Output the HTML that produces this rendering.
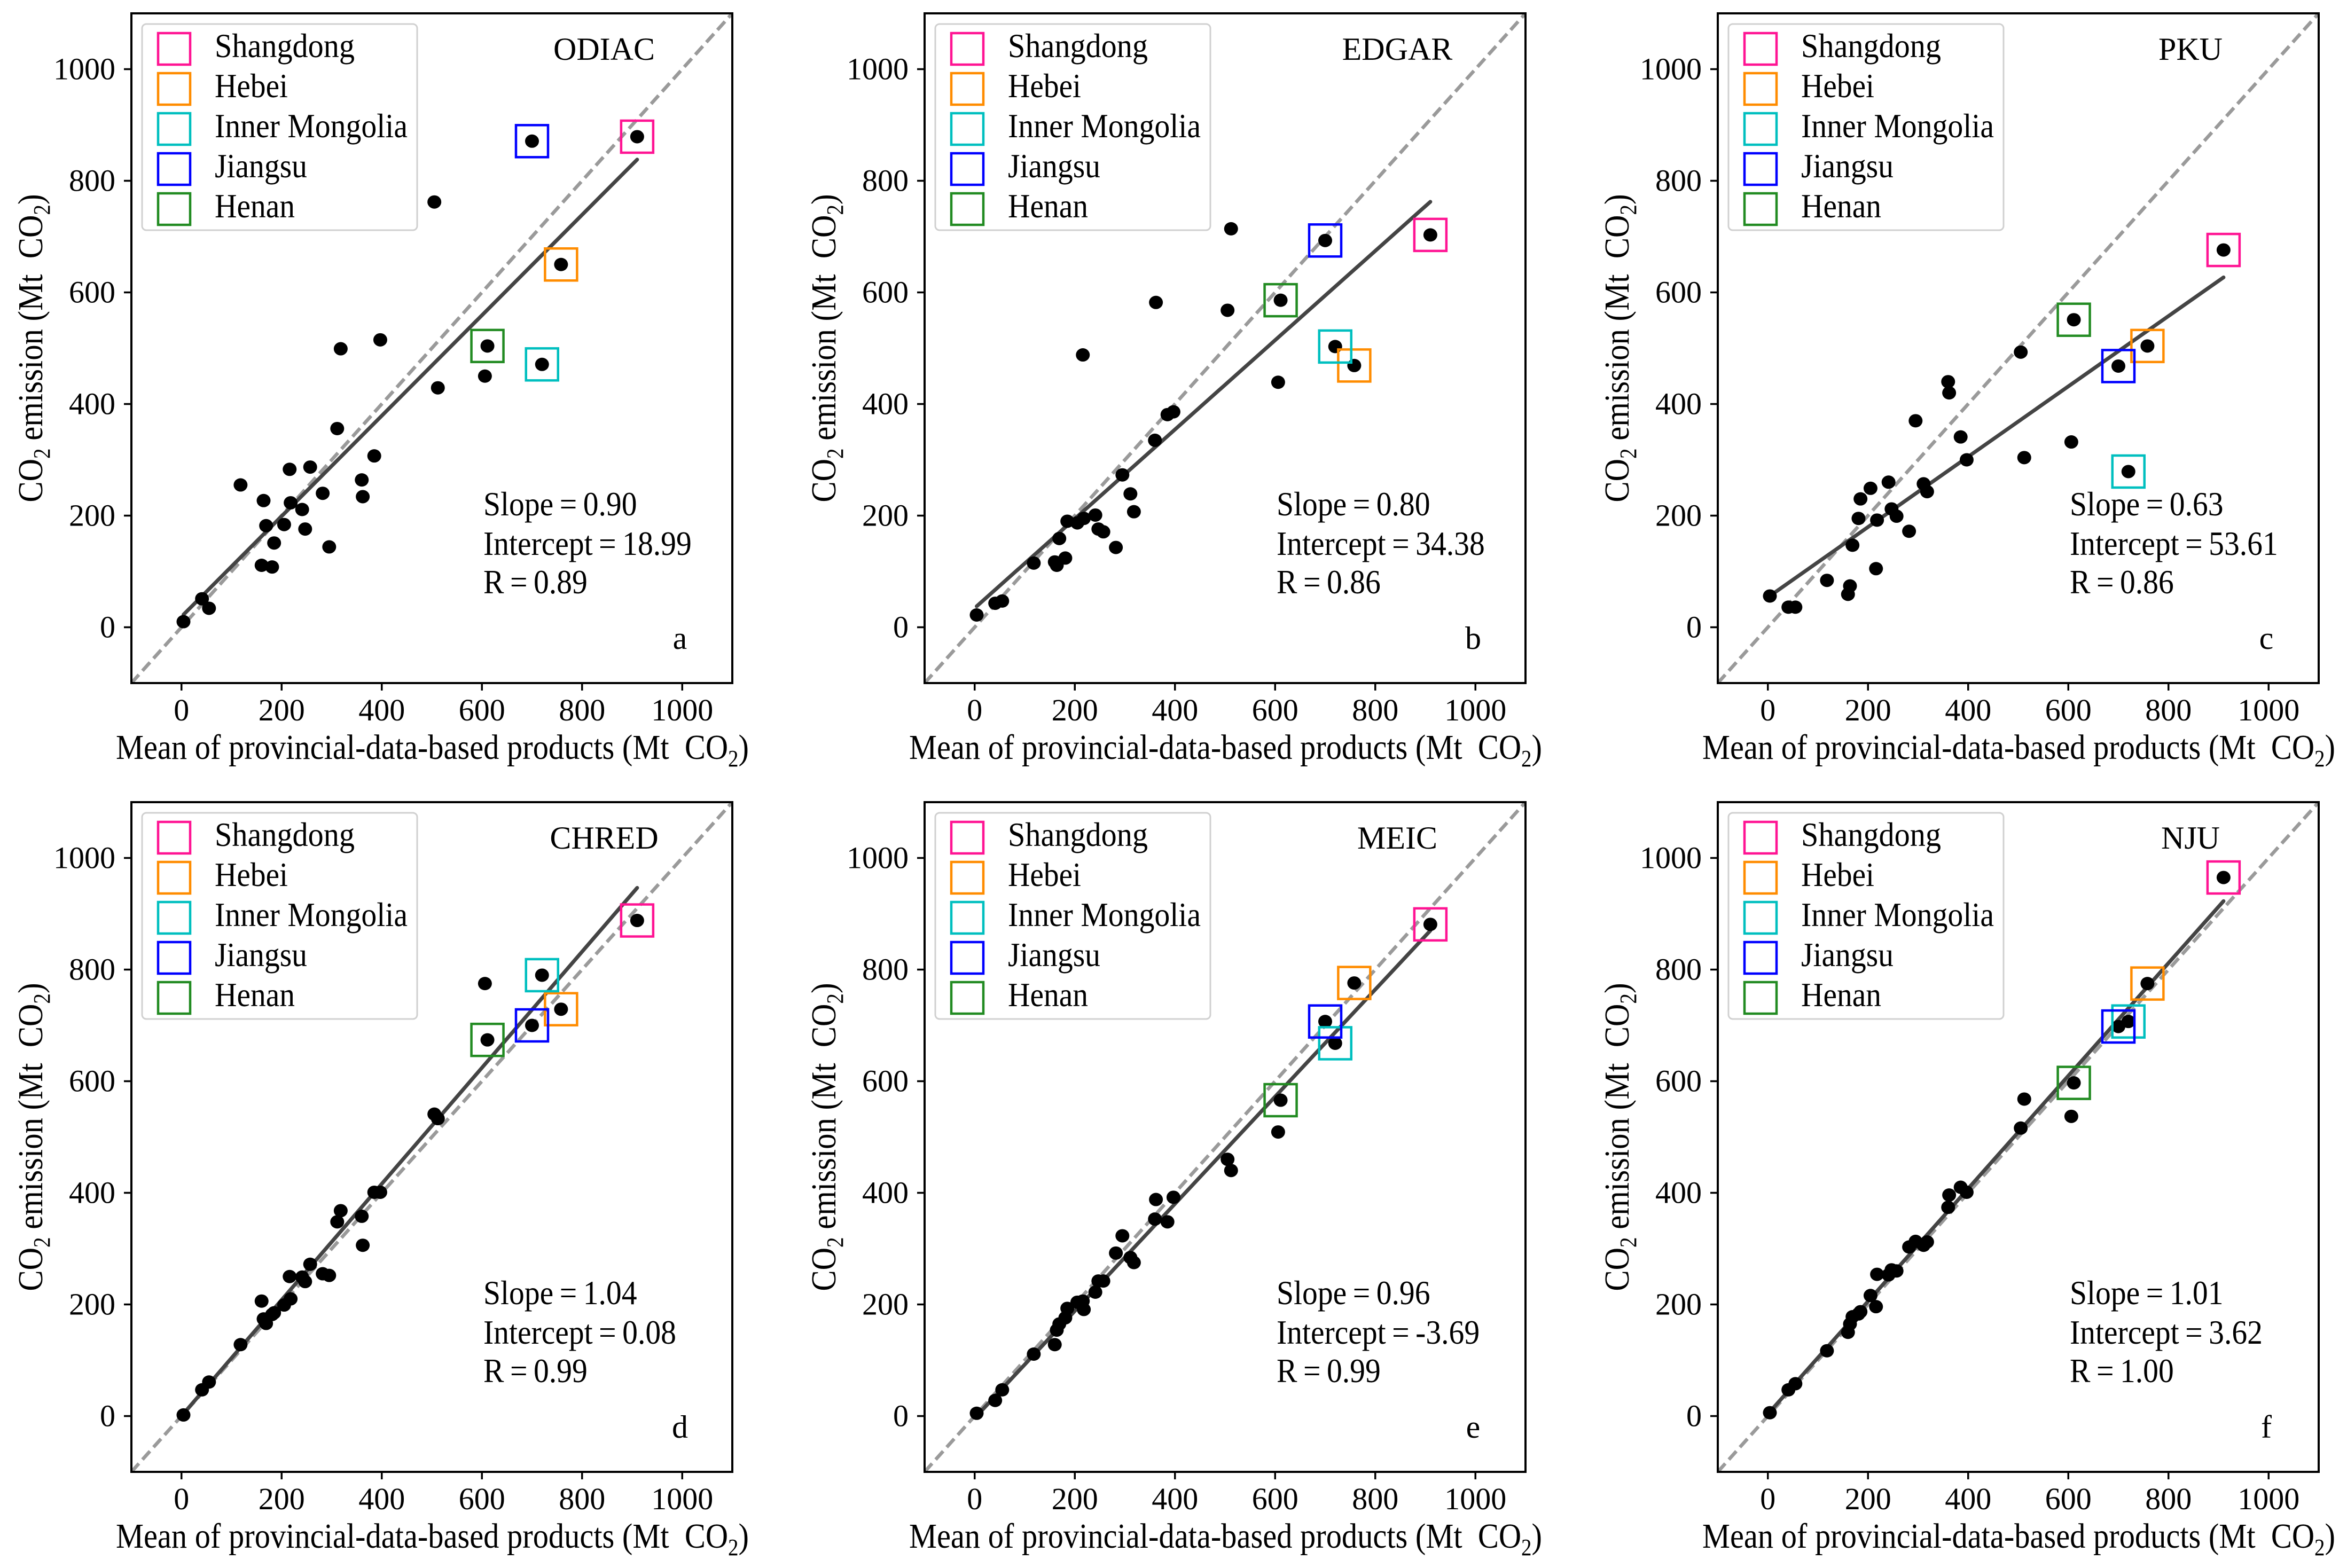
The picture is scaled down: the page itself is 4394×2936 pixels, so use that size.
<!DOCTYPE html>
<html><head><meta charset="utf-8"><style>
html,body{margin:0;padding:0;background:#fff;}
svg{display:block;}
text{font-family:"Liberation Serif","Times New Roman",serif;fill:#000;}
</style></head>
<body>
<svg id="fig" xmlns="http://www.w3.org/2000/svg" width="4394" height="2936" viewBox="0 0 4394 2936" font-family="'Liberation Serif', serif"></svg>
<script>
// Shared x values: mean of provincial-data-based products (Mt CO2)
const provX = [4,41,55,118,160,164,169,181,185,205,216,218,241,247,257,282,295,311,318,360,362,385,397,505,512,606,611,700,720,758,910];
// Product y values (Mt CO2)
const yODIAC = [10,51,34,255,111,227,182,108,151,184,283,223,211,176,287,240,144,356,499,264,234,307,515,762,429,450,504,871,471,650,879];
const yEDGAR = [22,43,47,115,117,111,159,124,190,187,488,195,201,176,171,143,273,239,207,335,582,381,386,568,714,439,586,693,503,469,703];
const yPKU = [56,36,36,84,59,74,147,195,230,249,105,192,260,212,199,172,370,257,243,440,420,341,300,493,304,332,551,468,279,504,676];
const yCHRED = [2,47,61,128,206,174,166,182,185,199,250,210,249,241,272,255,252,348,368,358,306,401,401,541,533,775,674,700,790,729,888];
const yMEIC = [5,28,47,111,128,154,165,176,193,204,206,191,222,242,242,292,323,284,275,353,388,348,392,460,440,509,566,707,668,776,881];
const yNJU = [6,47,58,117,150,165,178,183,187,216,196,254,253,262,260,303,313,306,312,374,396,410,401,516,568,537,597,698,707,775,965];
const productNames = ["ODIAC","EDGAR","PKU","CHRED","MEIC","NJU"];
const slopes = [0.90,0.80,0.63,1.04,0.96,1.01];
const intercepts = [18.99,34.38,53.61,0.08,-3.69,3.62];
const rValues = ["0.89","0.86","0.86","0.99","0.99","1.00"];
const panelLetters = ["a","b","c","d","e","f"];
const tickValues = [0,200,400,600,800,1000];
const highlightNames = ["Shangdong","Hebei","Inner Mongolia","Jiangsu","Henan"];
const highlightIdx = [30,29,28,27,26];
const highlightColors = ["#ff1493","#ff8c00","#00bfbf","#0000ff","#228b22"];

const allY = [yODIAC,yEDGAR,yPKU,yCHRED,yMEIC,yNJU];
const NS = "http://www.w3.org/2000/svg";
const svg = document.getElementById("fig");
function mk(tag, attrs, parent){ const e=document.createElementNS(NS,tag); for(const k in attrs) e.setAttribute(k,attrs[k]); (parent||svg).appendChild(e); return e; }

const AW=1125, AH=1254, DMIN=-100, DMAX=1100;
for(let p=0;p<6;p++){
  const col=p%3, row=Math.floor(p/3);
  const L=246+col*1485, T=25+row*1477;
  const sx=v=>L+(v-DMIN)/(DMAX-DMIN)*AW;
  const sy=v=>T+AH-(v-DMIN)/(DMAX-DMIN)*AH;
  const g=mk("g",{});
  
  
  const clipId='clip'+p;
  const cp=mk("clipPath",{id:clipId},g); mk("rect",{x:L,y:T,width:AW,height:AH},cp);
  const one=mk("line",{x1:sx(DMIN),y1:sy(DMIN),x2:sx(DMAX),y2:sy(DMAX),stroke:"#9a9a9a","stroke-width":6.5,"stroke-dasharray":"21 10","clip-path":"url(#"+clipId+")"},g);
  
  
  const xs=provX, ys=allY[p];
  const xmin=Math.min(...xs), xmax=Math.max(...xs);
  const reg=mk("line",{x1:sx(xmin),y1:sy(slopes[p]*xmin+intercepts[p]),x2:sx(xmax),y2:sy(slopes[p]*xmax+intercepts[p]),stroke:"#444","stroke-width":7,"stroke-linecap":"round"},g);
  
  
  for(let i=0;i<xs.length;i++){
    const c=mk("ellipse",{cx:sx(xs[i]),cy:sy(ys[i]),rx:13,ry:12.5,fill:"#000"},g);
    
    
  }
  for(let k=0;k<highlightIdx.length;k++){
    const i=highlightIdx[k];
    const r=mk("rect",{x:sx(xs[i])-30,y:sy(ys[i])-30,width:60,height:60,fill:"none",stroke:highlightColors[k],"stroke-width":4.5},g);
    
    
  }
  const fr=mk("rect",{x:L,y:T,width:AW,height:AH,fill:"none",stroke:"#000","stroke-width":4},g);
  
  
  for(const v of tickValues){
    mk("line",{x1:sx(v),y1:T+AH,x2:sx(v),y2:T+AH+14,stroke:"#000","stroke-width":3.5},g);
    const tx=mk("text",{x:sx(v),y:T+AH+70,"font-size":58,"text-anchor":"middle"},g); tx.textContent=v;
    
    
    mk("line",{x1:L-14,y1:sy(v),x2:L,y2:sy(v),stroke:"#000","stroke-width":3.5},g);
    const ty=mk("text",{x:L-30,y:sy(v)+19,"font-size":58,"text-anchor":"end"},g); ty.textContent=v;
    
    
  }
  const xl=mk("text",{x:L-29,y:T+AH+142,"font-size":66,textLength:1185,lengthAdjust:"spacingAndGlyphs"},g);
  xl.innerHTML='Mean of provincial-data-based products (Mt\u00a0 CO<tspan font-size="44" dy="14">2</tspan><tspan dy="-14">)</tspan>';
  
  
  const ycx=L-167, ycy=T+AH/2;
  const yl=mk("text",{x:ycx,y:ycy,"font-size":66,"text-anchor":"middle",transform:"rotate(-90 "+ycx+" "+ycy+")",textLength:577,lengthAdjust:"spacingAndGlyphs"},g);
  yl.innerHTML='CO<tspan font-size="44" dy="14">2</tspan><tspan dy="-14"> emission (Mt\u00a0 CO</tspan><tspan font-size="44" dy="14">2</tspan><tspan dy="-14">)</tspan>';
  
  
  const lg=mk("g",{},g);
  
  
  mk("rect",{x:L+20,y:T+20,width:515,height:386,rx:8,fill:"#fff","fill-opacity":0.85,stroke:"#d0d0d0","stroke-width":3},lg);
  const lw=[262,137,361,173,150];
  for(let k=0;k<highlightNames.length;k++){
    const e=mk("g",{},lg);
    
    
    mk("rect",{x:L+50,y:T+37+75*k,width:60,height:59,fill:"none",stroke:highlightColors[k],"stroke-width":4.5},e);
    const t=mk("text",{x:L+156,y:T+82+75*k,"font-size":64,textLength:lw[k],lengthAdjust:"spacingAndGlyphs"},e); t.textContent=highlightNames[k];
  }
  const ti=mk("text",{x:L+885,y:T+87,"font-size":60,"text-anchor":"middle"},g); ti.textContent=productNames[p];
  
  
  const st=mk("g",{transform:"translate("+(L+659)+",0) scale(0.9,1) translate("+(-(L+659))+",0)"},g);
  
  
  const s1=mk("text",{x:L+659,y:T+940,"font-size":64},st); s1.textContent="Slope\u2009=\u2009"+slopes[p].toFixed(2);
  const s2=mk("text",{x:L+659,y:T+1014,"font-size":64},st); s2.textContent="Intercept\u2009=\u2009"+intercepts[p].toFixed(2);
  const s3=mk("text",{x:L+659,y:T+1086,"font-size":64},st); s3.textContent="R\u2009=\u2009"+rValues[p];
  const le=mk("text",{x:L+1027,y:T+1190,"font-size":60,"text-anchor":"middle"},g); le.textContent=panelLetters[p];
  
  
}
</script>
</body></html>
